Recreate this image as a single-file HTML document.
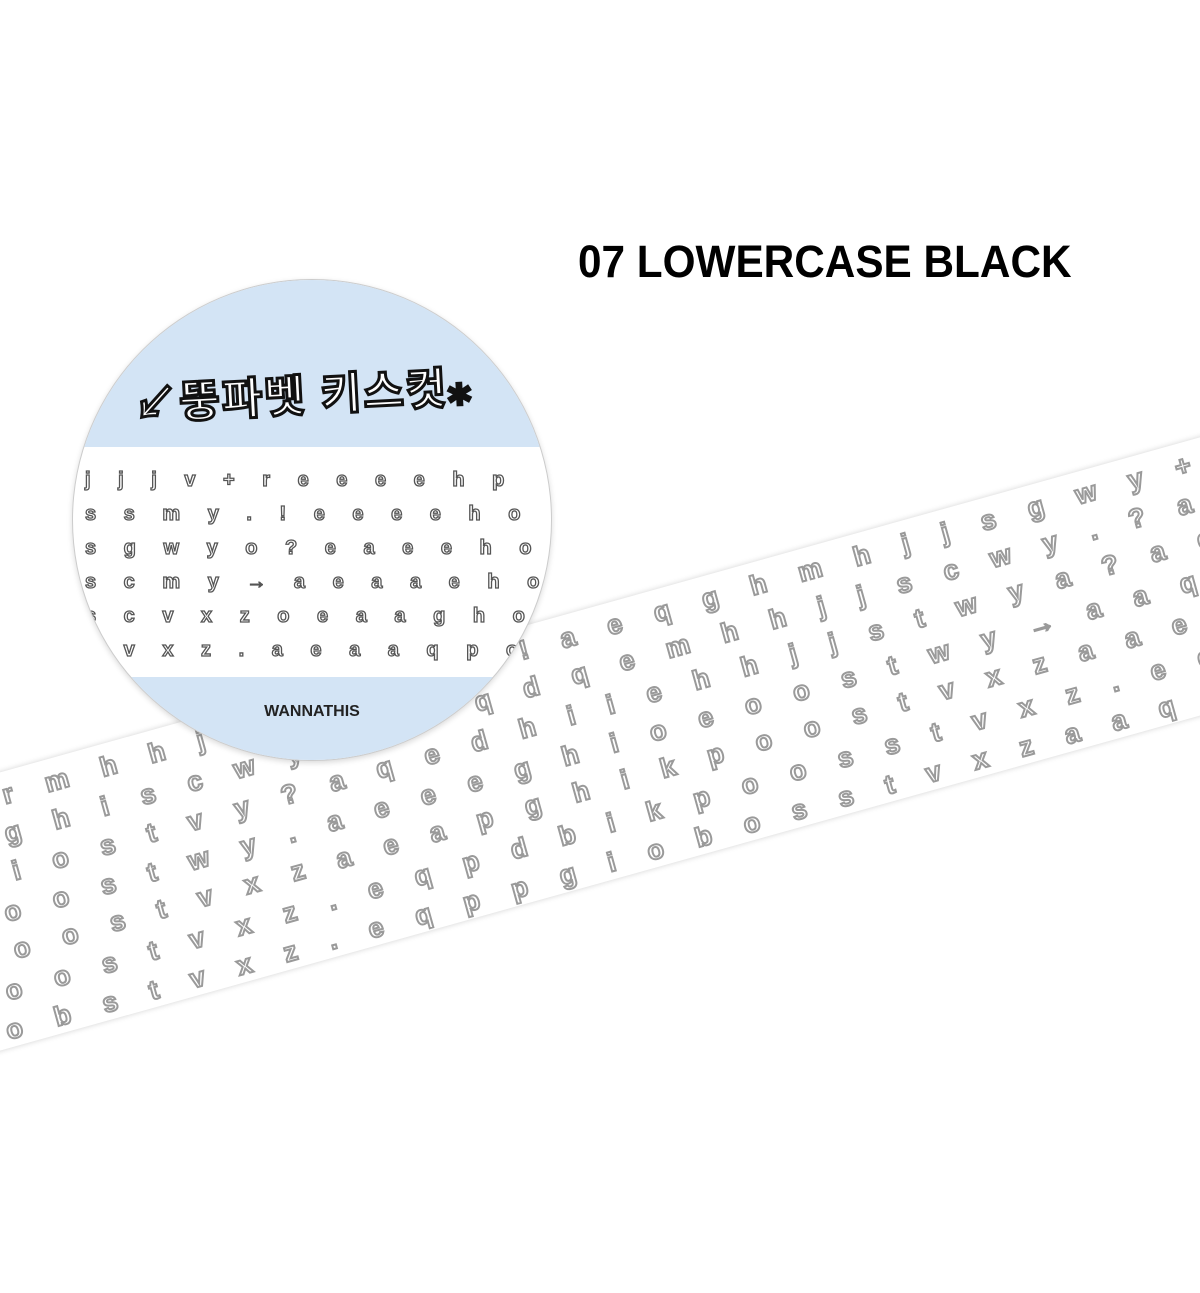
<!DOCTYPE html>
<html><head><meta charset="utf-8"><style>
html,body{margin:0;padding:0;background:#fff;width:1200px;height:1293px;overflow:hidden;position:relative;font-family:"Liberation Sans","Noto Sans CJK KR",sans-serif}
.title{position:absolute;left:578px;top:236px;font-size:45px;font-weight:bold;color:#000;white-space:nowrap;transform:scaleX(0.94);transform-origin:left top}
.tape{position:absolute;left:-150px;top:610px;width:1500px;height:268px;background:#fff;transform:rotate(-15.6deg);transform-origin:center;box-shadow:0 0 6px rgba(0,0,0,0.18);overflow:hidden}
.tape .row{position:absolute;left:0;white-space:nowrap;font-size:27px;font-weight:bold;color:#fff;-webkit-text-stroke:2px #9a9a9a;letter-spacing:13px}
.circle{position:absolute;left:72px;top:279px;width:478px;height:480px;border-radius:50%;overflow:hidden;background:#fff;border:1px solid #ccc;box-shadow:0 2px 6px rgba(0,0,0,0.15)}
.band1{position:absolute;left:0;top:0;width:100%;height:167px;background:#d3e4f5}
.band2{position:absolute;left:0;top:397px;width:100%;height:90px;background:#d3e4f5}
.ktitle{position:absolute;left:60px;top:80px;font-size:44px;font-weight:bold;color:#fff;-webkit-text-stroke:3px #111;white-space:nowrap;letter-spacing:2px;transform:rotate(-3deg)}
.brand{position:absolute;left:0;width:100%;top:423px;text-align:center;font-size:16px;font-weight:bold;color:#222}
.grid{position:absolute;left:12px;top:183px;font-size:20px;font-weight:bold;color:#fff;-webkit-text-stroke:1.3px #555;line-height:34px;white-space:pre;letter-spacing:11px}
</style></head><body>
<div class="title">07 LOWERCASE BLACK</div>
<div class="tape">
<div class="row" style="top:8px;left:120px">j r m h h j j g g w y ? ! a e q g h m h j j s g w y + r a e e e e e</div>
<div class="row" style="top:46px;left:110px">f g h i s c w y ? a e q d q e m h h j j s c w y . ? a q p e e e</div>
<div class="row" style="top:84px;left:100px">h i o s t v y ? a q e d h i i e h h j j s t w y a ? a q p p e</div>
<div class="row" style="top:122px;left:90px">i o o s t w y . a e e e g h i o e o o s t w y → a a q p p p</div>
<div class="row" style="top:160px;left:80px">o o o s t v x z a e a p g h i k p o o s t v x z a a e q p p</div>
<div class="row" style="top:198px;left:70px">i o o s t v x z . e q p d b i k p o o s s t v x z . e q p</div>
<div class="row" style="top:236px;left:60px">i o b s t v x z . e q p p g i o b o s s t v x z a a q p</div>
</div>
<div class="circle">
<div class="band1"></div>
<div class="band2"></div>
<div class="ktitle">↙뚱파벳 키스컷⁎</div>
<div class="grid">j j j v + r e e e e h p
s s m y . ! e e e e h o
s g w y o ? e a e e h o
s c m y → a e a a e h o
s c v x z o e a a g h o
c v x z . a e a a q p o</div>
<div class="brand">WANNATHIS</div>
</div>
</body></html>
